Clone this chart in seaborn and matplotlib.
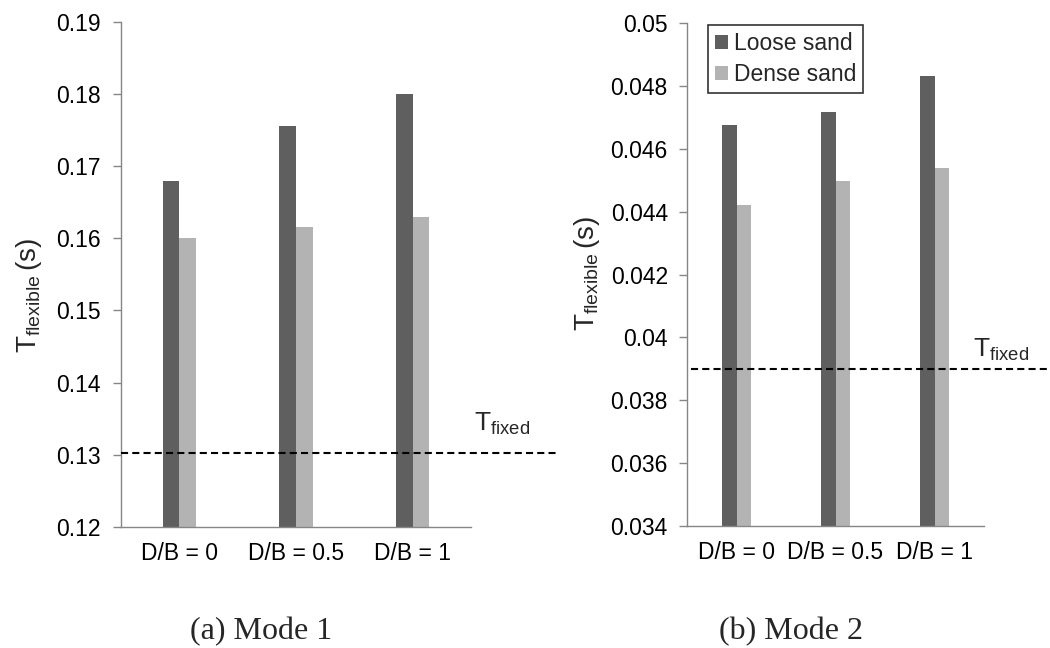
import numpy as np
import pandas as pd
import matplotlib
matplotlib.use("Agg")
import matplotlib.pyplot as plt
import seaborn as sns

# ---------------- data ----------------
categories = ["D/B = 0", "D/B = 0.5", "D/B = 1"]
series_names = ["Loose sand", "Dense sand"]

mode1_loose = [0.1680, 0.1756, 0.1800]
mode1_dense = [0.1601, 0.1616, 0.1630]
mode1_fixed = 0.1302

mode2_loose = [0.04676, 0.04716, 0.04832]
mode2_dense = [0.04423, 0.04497, 0.04539]
mode2_fixed = 0.0390

mode1_yticks = [0.12, 0.13, 0.14, 0.15, 0.16, 0.17, 0.18, 0.19]
mode1_yticklabels = ["0.12", "0.13", "0.14", "0.15", "0.16", "0.17", "0.18", "0.19"]
mode2_yticks = [0.034, 0.036, 0.038, 0.040, 0.042, 0.044, 0.046, 0.048, 0.050]
mode2_yticklabels = ["0.034", "0.036", "0.038", "0.04", "0.042", "0.044", "0.046", "0.048", "0.05"]

captions = ["(a) Mode 1", "(b) Mode 2"]
colors = ["#5f5f5f", "#b3b3b3"]

# ---------------- style ----------------
sns.set_theme(style="white")
plt.rcParams["font.family"] = ["Liberation Sans", "DejaVu Sans"]
plt.rcParams["mathtext.fontset"] = "custom"
plt.rcParams["mathtext.rm"] = "Liberation Sans"
plt.rcParams["mathtext.it"] = "Liberation Sans"

AX_COLOR = "#868686"
TICK_FS = 16.5


def make_df(loose, dense):
    return pd.DataFrame({
        "cat": categories * 2,
        "val": list(loose) + list(dense),
        "soil": [series_names[0]] * 3 + [series_names[1]] * 3,
    })


fig = plt.figure(figsize=(10.5, 6.48), dpi=100)
ax1 = fig.add_axes([0.11524, 0.18673, 0.33333, 0.77978])
ax2 = fig.add_axes([0.65429, 0.18827, 0.28286, 0.77593])

panels = [
    (ax1, make_df(mode1_loose, mode1_dense), mode1_fixed, mode1_yticks, mode1_yticklabels,
     (0.0, 1.246), (1.0094, 0.19), (-0.22, 0.459), 9.0),
    (ax2, make_df(mode2_loose, mode2_dense), mode2_fixed, mode2_yticks, mode2_yticklabels,
     (0.0135, 1.2155), (0.963, 0.336), (-0.286, 0.503), 8.0),
]

for i, (ax, df, tfix, yt, ytl, xr, tpos, lpos, ypad) in enumerate(panels):
    sns.barplot(data=df, x="cat", y="val", hue="soil", palette=colors,
                width=0.286, saturation=1, errorbar=None, ax=ax,
                linewidth=0, legend=(i == 1))
    ax.set_xlim(-0.5, 2.5)
    ax.set_ylim(yt[0], yt[-1])
    ax.set_yticks(yt)
    ax.set_yticklabels(ytl)
    ax.set_xlabel("")
    ax.set_ylabel(r"T$_{\mathrm{flexible}}$$\,$(s)", fontsize=20)
    ax.yaxis.set_label_coords(lpos[0], lpos[1])
    for s in ["top", "right"]:
        ax.spines[s].set_visible(False)
    for s in ["left", "bottom"]:
        ax.spines[s].set_color(AX_COLOR)
        ax.spines[s].set_linewidth(1.0)
    ax.tick_params(axis="y", direction="out", length=5.8, width=1.0, color=AX_COLOR,
                   labelsize=TICK_FS, labelcolor="black", pad=ypad, left=True)
    ax.tick_params(axis="x", length=0, labelsize=TICK_FS, labelcolor="black", pad=11)
    ax.grid(False)

    ax.axhline(tfix, xmin=xr[0], xmax=xr[1], color="black", lw=1.5,
               linestyle=(0, (3.4, 2.0)), clip_on=False, zorder=5)
    ax.text(tpos[0], tpos[1], r"T$_{\mathrm{fixed}}$", transform=ax.transAxes,
            fontsize=19, ha="left", va="baseline")

leg = ax2.legend(loc="upper left", bbox_to_anchor=(0.0697, 0.9964), borderaxespad=0,
                 fontsize=16.5, frameon=True, fancybox=False, edgecolor="black",
                 handlelength=0.6, handleheight=0.6, handletextpad=0.25,
                 borderpad=0.3, labelspacing=0.35)
leg.get_frame().set_linewidth(1.2)

fig.text(0.2486, 0.0247, captions[0], family="Liberation Serif", fontsize=23,
         ha="center", va="center")
fig.text(0.7538, 0.0247, captions[1], family="Liberation Serif", fontsize=23,
         ha="center", va="center")

fig.savefig("out.png", dpi=100)
